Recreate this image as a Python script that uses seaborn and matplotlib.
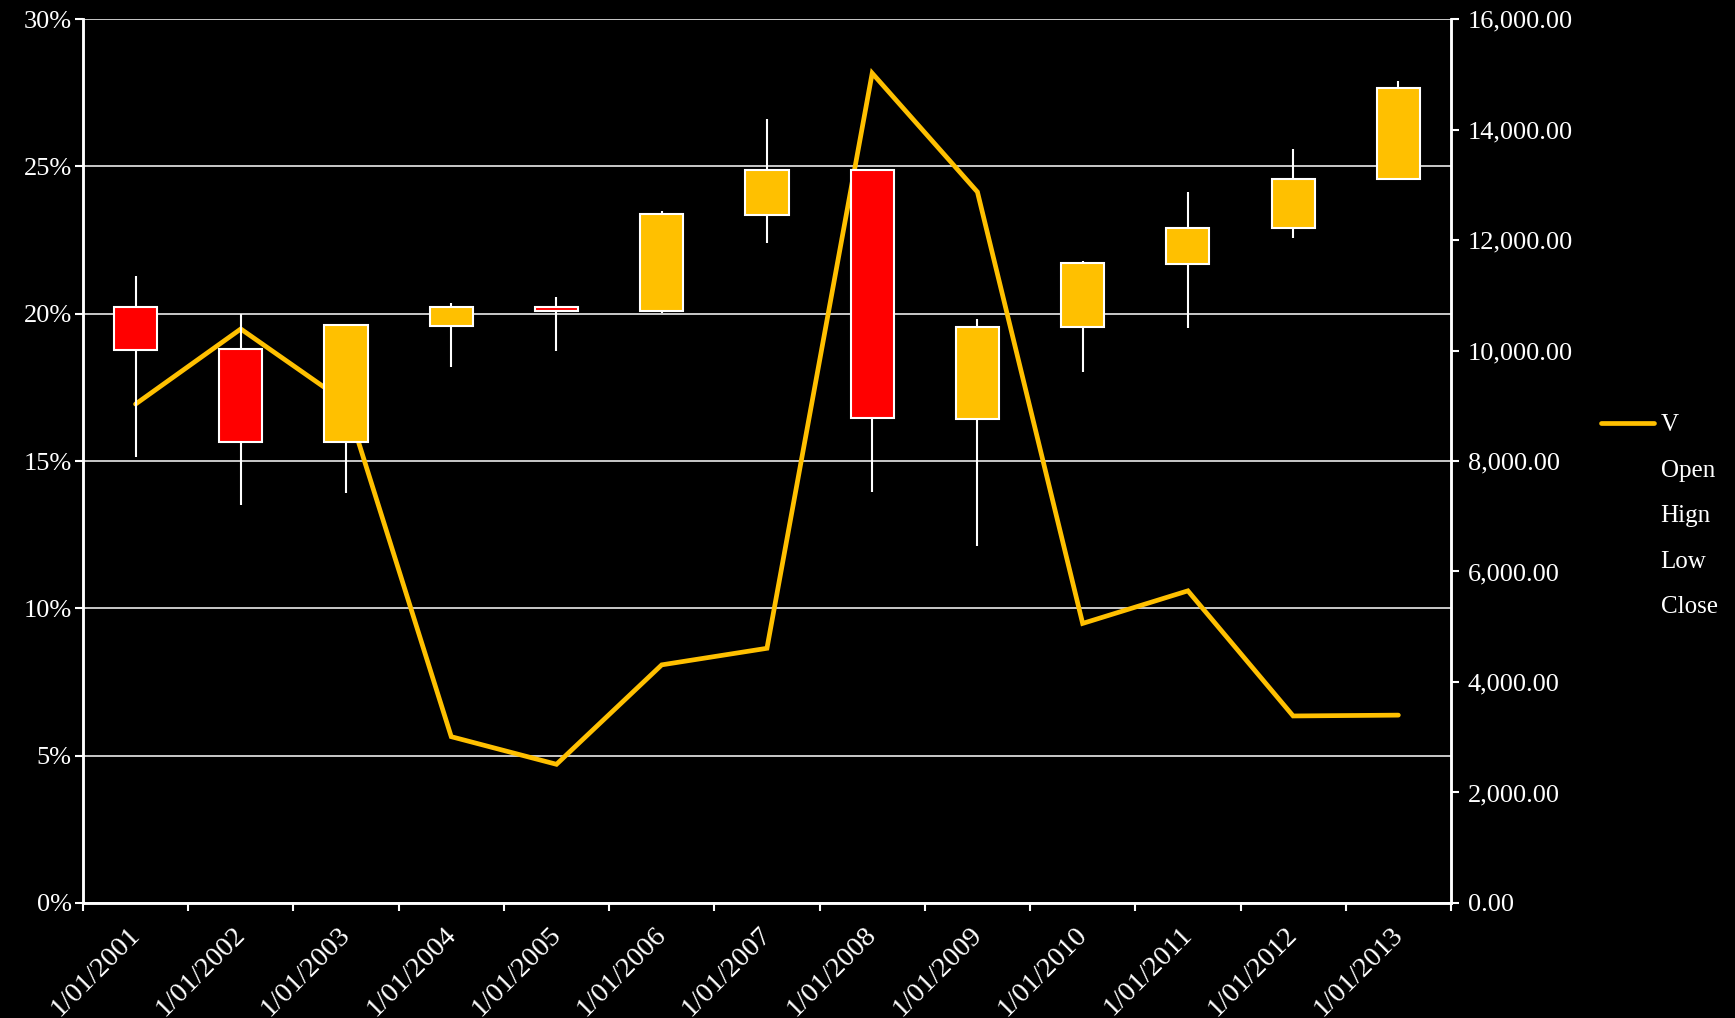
import numpy as np
import pandas as pd
import matplotlib
matplotlib.use("Agg")
import matplotlib.pyplot as plt
import matplotlib.ticker as mticker
from matplotlib.lines import Line2D
from matplotlib.transforms import blended_transform_factory, ScaledTranslation
import seaborn as sns

# ---- data ----
dates = ["1/01/2001", "1/01/2002", "1/01/2003", "1/01/2004", "1/01/2005",
         "1/01/2006", "1/01/2007", "1/01/2008", "1/01/2009", "1/01/2010",
         "1/01/2011", "1/01/2012", "1/01/2013"]
open_ = [20.23, 18.80, 15.63, 19.59, 20.22, 20.10, 23.36, 24.86, 16.43, 19.56, 21.70, 22.90, 24.56]
high = [21.27, 19.98, 19.60, 20.36, 20.58, 23.47, 26.61, 24.92, 19.83, 21.78, 24.12, 25.60, 27.90]
low = [15.12, 13.49, 13.90, 18.20, 18.75, 20.02, 22.39, 13.96, 12.13, 18.03, 19.51, 22.56, 24.56]
close = [18.78, 15.63, 19.60, 20.22, 20.08, 23.38, 24.87, 16.45, 19.56, 21.71, 22.90, 24.56, 27.66]
volume = [9030, 10390, 9060, 3010, 2510, 4310, 4610, 15020, 12870, 5060, 5650, 3385, 3400]
legend_labels = ["V", "Open", "Hign", "Low", "Close"]

df = pd.DataFrame({"date": dates, "open": open_, "high": high, "low": low,
                   "close": close, "V": volume})
df[["open", "high", "low", "close"]] /= 100
df["pos"] = np.arange(len(df))

gold = "#FFC000"
red = "#FF0000"

sns.set_theme(style="dark", rc={"axes.facecolor": "black", "figure.facecolor": "black",
                                "savefig.facecolor": "black", "axes.edgecolor": "white",
                                "text.color": "white", "xtick.color": "white",
                                "ytick.color": "white"})
plt.rcParams["font.family"] = ["Liberation Serif", "DejaVu Serif"]
FS = 19

fig = plt.figure(figsize=(17.35, 10.18), dpi=100)
fig.subplots_adjust(left=0.0478, right=0.8363, bottom=0.113, top=0.9813)
ax = fig.add_subplot(111)
ax2 = ax.twinx()

# candles on top of the volume line
ax.set_zorder(2)
ax2.set_zorder(1)
ax.patch.set_visible(False)
ax2.set_facecolor("black")

# horizontal grid (percent axis) drawn underneath the line
tr = blended_transform_factory(ax2.transAxes, ax.transData)
for t in np.arange(0, 0.301, 0.05):
    ax2.plot([0, 1], [t, t], transform=tr, color="white", lw=1.1, zorder=0)

# volume line on the secondary axis
sns.lineplot(data=df, x="pos", y="V", ax=ax2, color=gold, lw=3.4,
             solid_capstyle="round", solid_joinstyle="miter", zorder=2)

# candles
ax.vlines(df["pos"], df["low"], df["high"], color="white", lw=1.5, zorder=2)
up = df["close"] >= df["open"]
bottoms = np.minimum(df["open"], df["close"])
heights = (df["close"] - df["open"]).abs()
ax.bar(df["pos"], heights, bottom=bottoms, width=0.41,
       color=np.where(up, gold, red), edgecolor="white", linewidth=1.5, zorder=3)

# axes
ax.set_xlim(-0.5, len(df) - 0.5)
ax.set_ylim(0, 0.30)
ax.yaxis.set_major_locator(mticker.MultipleLocator(0.05))
ax.yaxis.set_major_formatter(mticker.PercentFormatter(1.0, decimals=0))
ax2.set_ylim(0, 16000)
ax2.yaxis.set_major_locator(mticker.MultipleLocator(2000))
ax2.yaxis.set_major_formatter(mticker.FuncFormatter(lambda v, _: f"{v:,.2f}"))
ax2.set_ylabel("")
ax2.set_xlabel("")
ax.set_xlabel("")
ax.set_ylabel("")

ax.set_xticks(np.arange(-0.5, len(df), 1.0))
ax.set_xticklabels([])
ax.set_xticks(df["pos"], minor=True)
ax.set_xticklabels(df["date"], minor=True, rotation=45, ha="right", va="center",
                   rotation_mode="anchor", fontsize=20.5, color="white")
ax.tick_params(axis="x", which="major", direction="out", length=6, width=1.5,
               colors="white", bottom=True)
ax.tick_params(axis="x", which="minor", length=0, pad=20)
shift = ScaledTranslation(0.5 / 72, 0, fig.dpi_scale_trans)
for lbl in ax.get_xticklabels(minor=True):
    lbl.set_transform(lbl.get_transform() + shift)
ax.tick_params(axis="y", direction="out", length=6, width=1.5, left=True,
               labelsize=FS, pad=2)
ax2.tick_params(axis="y", direction="out", length=6, width=1.5, right=True,
                labelsize=FS, pad=6)

for a in (ax, ax2):
    a.grid(False)
    for side in ("left", "bottom", "right"):
        a.spines[side].set_color("white")
        a.spines[side].set_linewidth(1.8)
    a.spines["top"].set_visible(False)

handles = [Line2D([], [], color=gold, lw=3.4, solid_capstyle="round")] + \
          [Line2D([], [], color="none") for _ in legend_labels[1:]]
leg = fig.legend(handles, legend_labels, loc="center left",
                 bbox_to_anchor=(0.9228, 0.493), frameon=False, fontsize=18,
                 handlelength=2.1, handletextpad=0.28, labelspacing=0.92,
                 borderpad=0, borderaxespad=0)
for txt in leg.get_texts():
    txt.set_color("white")

fig.savefig("out.png", dpi=100, facecolor="black")
